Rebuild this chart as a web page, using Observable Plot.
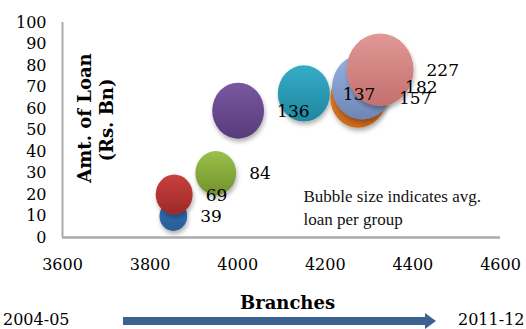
<!DOCTYPE html>
<html>
<head>
<meta charset="utf-8">
<script src="https://cdn.jsdelivr.net/npm/d3@7"></script>
<script src="https://cdn.jsdelivr.net/npm/@observablehq/plot@0.6"></script>
<style>
  html, body { margin: 0; padding: 0; background: #fff; }
  #chart { position: relative; width: 526px; height: 329px; overflow: hidden; font-family: "DejaVu Serif", serif; color: #000; }
  #chart > svg { display: block; }
  .ytitle { position: absolute; white-space: nowrap; font-weight: bold; font-size: 18px; line-height: 20px;
            transform: translate(-50%, -50%) rotate(-90deg); }
  #timeline { position: absolute; left: 0; top: 310px; width: 526px; height: 19px; }
  #timeline .yr { position: absolute; top: 2px; font-size: 16px; line-height: 16px; white-space: nowrap; }
  #timeline svg { position: absolute; left: 0; top: 0; }
</style>
</head>
<body>
<div id="chart"></div>
<script>
// One bubble per year, 2004-05 through 2011-12
const years = ["2004-05", "2005-06", "2006-07", "2007-08", "2008-09", "2009-10", "2010-11", "2011-12"];
const branches = [3853, 3855, 3950, 4001, 4151, 4275, 4284, 4325];
const loanAmount = [10, 20, 30, 59, 67, 65, 70, 78];   // Rs. Bn
const avgLoan = [39, 69, 84, 136, 137, 157, 182, 227];  // bubble size
const bubbleColors = [
  ["#3677bf", "#285a96"],
  ["#c8403d", "#9c2928"],
  ["#9bc04a", "#72922c"],
  ["#7a58a2", "#573b7a"],
  ["#34adc8", "#22869f"],
  ["#ee8a30", "#c9661a"],
  ["#98b2df", "#6e86b6"],
  ["#e09896", "#c4706f"]
];
const xTicks = [3600, 3800, 4000, 4200, 4400, 4600];
const yTicks = [0, 10, 20, 30, 40, 50, 60, 70, 80, 90, 100];
const yTitle = ["Amt. of Loan", "(Rs. Bn)"];
const xTitle = "Branches";
const note = ["Bubble size indicates avg.", "loan per group"];

const rows = years.map((year, i) => ({
  year, branches: branches[i], loan: loanAmount[i], avg: avgLoan[i], fill: `url(#bubble-${i})`
}));

// bubble area scale, shared by the dots and the label offsets
const rDomain = [0, d3.max(avgLoan)];
const rRange = [0, 33.5];
const rScale = d3.scaleSqrt().domain(rDomain).range(rRange);

const serif = "DejaVu Serif, serif";

const plot = Plot.plot({
  width: 526,
  height: 329,
  marginTop: 22,
  marginLeft: 62,
  marginRight: 26,
  marginBottom: 92,
  style: { fontFamily: serif, fontSize: "16px", color: "#000", background: "#fff" },
  x: { domain: [3600, 4600], ticks: xTicks, tickFormat: "d", tickSize: 0, tickPadding: 21, label: null },
  y: { domain: [0, 100], ticks: yTicks, tickFormat: "d", tickSize: 0, tickPadding: 16, label: null },
  r: { type: "sqrt", domain: rDomain, range: rRange },
  color: { type: "identity" },
  marks: [
    Plot.ruleX([3600], { stroke: "#ababab", strokeWidth: 2 }),
    Plot.ruleY([0], { stroke: "#ababab", strokeWidth: 2.6 }),
    // drawn in year order so later years sit on top
    Plot.dot(rows, { x: "branches", y: "loan", r: "avg", fill: "fill", stroke: "none", sort: null }),
    ...rows.map(d => Plot.text([d], {
      x: "branches", y: "loan", text: d => String(d.avg),
      textAnchor: "start", dx: rScale(d.avg) + 13, dy: 1,
      fontSize: 17, fill: "#000"
    })),
    Plot.text([xTitle], {
      frameAnchor: "bottom", text: d => d, dx: 6, dy: 71,
      fontSize: 18, fontWeight: "bold", fill: "#000"
    }),
    ...note.map((t, i) => Plot.text([t], {
      frameAnchor: "bottom-right", text: d => d, textAnchor: "start",
      dx: -197, dy: -36 + i * 23, fontSize: 17,
      fontFamily: "Liberation Serif, serif", fill: "#111"
    }))
  ]
});

// vertical gradients and soft shadow for the bubbles
const svg = d3.select(plot);
const defs = svg.insert("defs", ":first-child");
bubbleColors.forEach(([top, bottom], i) => {
  const g = defs.append("linearGradient").attr("id", `bubble-${i}`)
    .attr("x1", 0).attr("y1", 0).attr("x2", 0).attr("y2", 1);
  g.append("stop").attr("offset", "0%").attr("stop-color", top);
  g.append("stop").attr("offset", "100%").attr("stop-color", bottom);
});
defs.append("filter").attr("id", "bubble-shadow")
  .attr("x", "-30%").attr("y", "-30%").attr("width", "160%").attr("height", "170%")
  .append("feDropShadow").attr("dx", 1).attr("dy", 3).attr("stdDeviation", 2)
  .attr("flood-color", "#000").attr("flood-opacity", 0.3);
svg.selectAll("circle").each(function () {
  const c = d3.select(this);
  const cx = +c.attr("cx"), cy = +c.attr("cy");
  c.attr("filter", "url(#bubble-shadow)")
   .attr("transform", `translate(${cx},${cy}) scale(1,1.08) translate(${-cx},${-cy})`);
});

const chart = document.getElementById("chart");
chart.appendChild(plot);

// rotated two-line title for the vertical axis
yTitle.forEach((t, i) => {
  const el = document.createElement("div");
  el.className = "ytitle";
  el.textContent = t;
  el.style.left = `${85 + i * 22}px`;
  el.style.top = `${118 + i * 2}px`;
  chart.appendChild(el);
});

// time direction row under the axis title
const timeline = document.createElement("div");
timeline.id = "timeline";
timeline.innerHTML = `
  <svg width="526" height="19">
    <rect x="123" y="7" width="303" height="8" fill="#3d6191"></rect>
    <polygon points="425,3 436,11 425,19" fill="#3d6191"></polygon>
  </svg>
  <span class="yr" style="left:3px">${years[0]}</span>
  <span class="yr" style="left:458px">${years[years.length - 1]}</span>`;
chart.appendChild(timeline);
</script>
</body>
</html>
